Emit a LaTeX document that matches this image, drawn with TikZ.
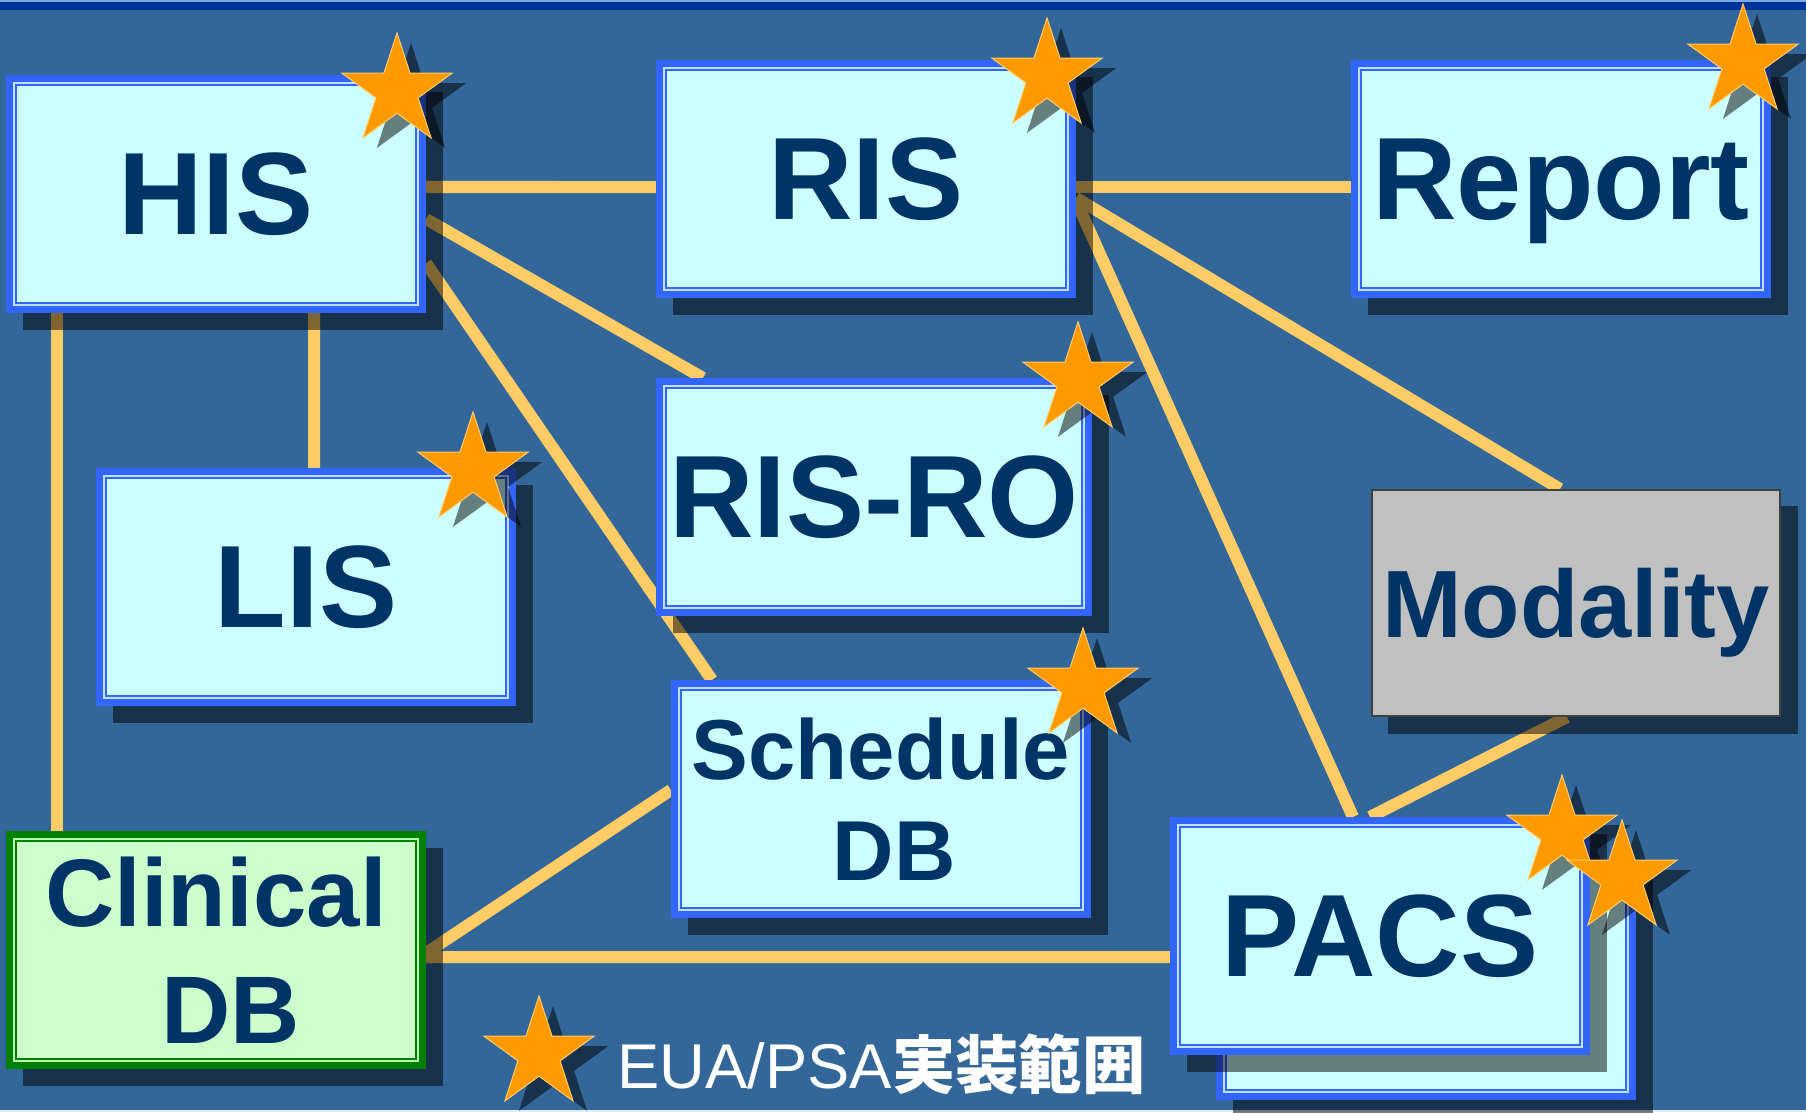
\documentclass[tikz,border=0pt]{standalone}
\usepackage{fontspec}
\setmainfont{Liberation Sans}
\newfontfamily\jpfont{Noto Sans CJK JP}
\usetikzlibrary{shapes.geometric}
\definecolor{slate}{HTML}{336699}
\definecolor{topbar}{HTML}{003399}
\definecolor{toplight}{HTML}{7FA8E0}
\definecolor{bottomlight}{HTML}{DDEEFF}
\definecolor{boxblue}{HTML}{3366FF}
\definecolor{framelight}{HTML}{BFDFFF}
\definecolor{boxfill}{HTML}{CCFFFF}
\definecolor{navy}{HTML}{003366}
\definecolor{linkgold}{HTML}{FFCC66}
\definecolor{starorange}{HTML}{FF9900}
\definecolor{starrim}{HTML}{FFCC66}
\definecolor{dbgreen}{HTML}{008000}
\definecolor{dbfill}{HTML}{CCFFCC}
\definecolor{dblight}{HTML}{B3FFB3}
\definecolor{modgray}{HTML}{C0C0C0}
\definecolor{modrim}{HTML}{404040}
\pgfdeclarelayer{links}
\pgfdeclarelayer{shadows}
\pgfdeclarelayer{front}
\pgfsetlayers{links,shadows,main,front}

\begin{document}
\begin{tikzpicture}[x=0.01cm, y=-0.01cm,
  panel/.style n args={3}{draw=#1, fill=#2, line width=0.07cm,
    path picture={\draw[draw=#1, double=#3, line width=0.02cm, double distance=0.02cm]
      ([shift={(0.045cm,-0.045cm)}]path picture bounding box.north west) rectangle
      ([shift={(-0.045cm,0.045cm)}]path picture bounding box.south east);}},
  sysbox/.style={panel={boxblue}{boxfill}{framelight}, text=navy, inner sep=0pt, align=center,
    minimum width=4.13cm, minimum height=2.31cm, font=\bfseries\fontsize{33.3}{38}\selectfont},
  clinbox/.style={sysbox, panel={dbgreen}{dbfill}{dblight}},
  modbox/.style={draw=modrim, fill=modgray, line width=0.02cm, text=navy, inner sep=0pt,
    minimum width=4.07cm, minimum height=2.26cm, font=\bfseries\fontsize{27.2}{32}\selectfont},
  drop/.style={fill=black, opacity=0.5},
  link/.style={draw=linkgold, line width=0.12cm},
  badge/.style={star, star points=5, star point ratio=2.618, minimum size=1.16cm, inner sep=0pt,
    fill=starorange, draw=starrim, line width=0.01cm},
  badgeshade/.style={badge, fill=black, draw=none, opacity=0.5}]
\useasboundingbox (0,0) rectangle (1806,1112);

% systems
\node[sysbox] (his) at (216,194) {HIS};
\node[sysbox] (ris) at (866,179) {RIS};
\node[sysbox, text depth=0pt] (report) at (1561,179) {Report};
\node[sysbox, minimum width=4.29cm] (risro) at (874,497) {RIS-RO};
\node[sysbox, font=\bfseries\fontsize{24.2}{28.7}\selectfont] (sched) at (881,799) {Schedule\\\hspace*{0.26cm}DB};
\node[sysbox] (lis) at (306,587) {LIS};
\node[modbox, text depth=0pt] (modality) at (1576,603) {Modality};
\node[sysbox] (pacs) at (1380,936) {PACS};
\node[clinbox, font=\bfseries\fontsize{27.3}{33.3}\selectfont] (clin) at (216,950) {Clinical\\\hspace*{0.3cm}DB};

% shadows, and the second PACS sheet
\begin{pgfonlayer}{shadows}
\foreach \n in {his,ris,report,risro,sched,lis,modality,clin}
  \fill[drop] ([shift={(17,17)}]\n.north west) rectangle ([shift={(17,17)}]\n.south east);
\fill[drop] ([shift={(63,62)}]pacs.north west) rectangle ([shift={(63,62)}]pacs.south east);
\node[sysbox] (pacsback) at ([shift={(46,45)}]pacs.center) {};
\fill[drop] ([shift={(17,17)}]pacs.north west) rectangle ([shift={(17,17)}]pacs.south east);
\end{pgfonlayer}

% links
\begin{pgfonlayer}{links}
\fill[slate] (0,0) rectangle (1806,1112);
\fill[toplight] (0,0) rectangle (1806,2);
\fill[topbar] (0,2) rectangle (1806,10);
\fill[bottomlight] (0,1110) rectangle (1806,1112);
\draw[link] ([yshift=0.07cm]his.east) -- ([yshift=-0.08cm]ris.west);
\draw[link] ([yshift=-0.08cm]ris.east) -- ([yshift=-0.08cm]report.west);
\draw[link] ([yshift=-0.25cm]his.east) -- ([xshift=-1.71cm]risro.north);
\draw[link] ([yshift=-0.69cm]his.east) -- ([xshift=-1.69cm]sched.north);
\draw[link] ([xshift=0.98cm]his.south) -- ([xshift=0.08cm]lis.north);
\draw[link] ([xshift=-1.59cm]his.south) -- ([xshift=-1.59cm]clin.north);
\draw[link] ([yshift=-0.19cm]ris.east) -- ([xshift=-0.16cm]modality.north);
\draw[link] ([yshift=-0.22cm]ris.east) -- ([xshift=-0.27cm]pacs.north);
\draw[link] ([xshift=-0.09cm]modality.south) -- ([xshift=-0.10cm]pacs.north);
\draw[link] ([yshift=0.09cm]sched.west) -- ([yshift=-0.03cm]clin.east);
\draw[link] ([yshift=-0.07cm]clin.east) -- ([yshift=-0.21cm]pacs.west);
\end{pgfonlayer}

% stars
\begin{pgfonlayer}{front}
\foreach \n/\x/\y in {his/397/91, ris/1047/76, report/1743/62, risro/1078/380, sched/1083/686,
    lis/473/470, pacsa/1562/833, pacsb/1622/878, legend/539/1054}{
  \node[badgeshade] (\n-starshade) at (\x+14,\y+10) {};
  \node[badge] (\n-star) at (\x,\y) {};
}
\end{pgfonlayer}
\node[anchor=base west, inner sep=0pt, text=white, font=\fontsize{18}{20}\selectfont]
  (legend) at (617,1088) {EUA/PSA{\jpfont\bfseries 実装範囲}};
\end{tikzpicture}
\end{document}
